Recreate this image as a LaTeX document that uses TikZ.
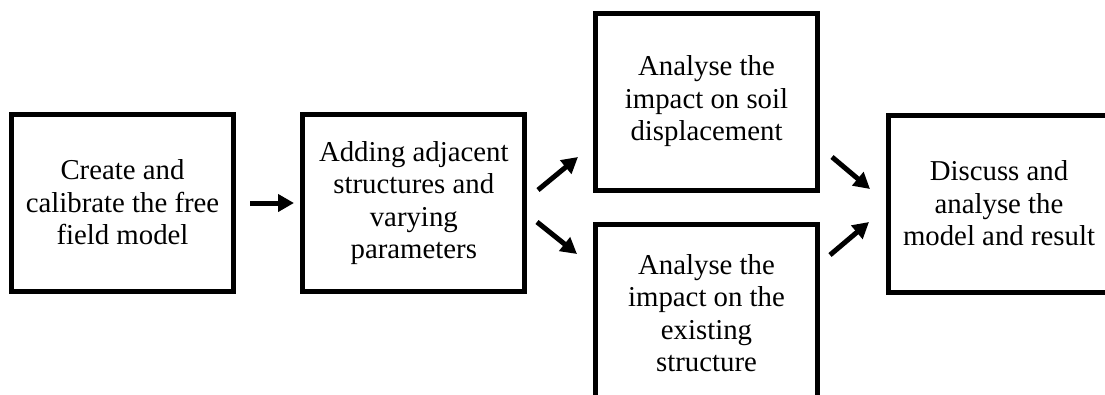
\documentclass[tikz,border=0pt]{standalone}
\usepackage{fontspec}
\setmainfont{Liberation Serif}
\usetikzlibrary{arrows.meta}
\begin{document}
\begin{tikzpicture}[x=1pt,y=-1pt,
  box/.style={draw=black, line width=5pt, minimum width=222pt, minimum height=177pt,
    align=center, inner sep=0pt, font=\fontsize{28.8}{32.5}\selectfont},
  arr/.style={line width=5pt, -{Triangle[length=16pt,width=17pt]}}]
\useasboundingbox (0,0) rectangle (1105,394);
\clip (0,0) rectangle (1105,394);
\node[box] (b1) at (122.5,202.5) {Create and\\calibrate the free\\field model};
\node[box] (b2) at (413.8,203) {Adding adjacent\\structures and\\varying\\parameters};
\node[box] (b3) at (706.5,101.5) {Analyse the\\impact on soil\\displacement};
\node[box] (b4) at (706.5,313) {Analyse the\\impact on the\\existing\\structure};
\node[box] (b5) at (999,203.5) {Discuss and\\analyse the\\model and result};
\coordinate (a1s) at (250,203);
\coordinate (a1e) at (294,203);
\coordinate (a2s) at (538,190);
\coordinate (a2e) at (578,157);
\coordinate (a3s) at (537,222);
\coordinate (a3e) at (577,254);
\coordinate (a4s) at (832,157);
\coordinate (a4e) at (870,189);
\coordinate (a5s) at (830,255);
\coordinate (a5e) at (869,222);
\draw[arr] (a1s) -- (a1e);
\draw[arr] (a2s) -- (a2e);
\draw[arr] (a3s) -- (a3e);
\draw[arr] (a4s) -- (a4e);
\draw[arr] (a5s) -- (a5e);
\end{tikzpicture}
\end{document}
